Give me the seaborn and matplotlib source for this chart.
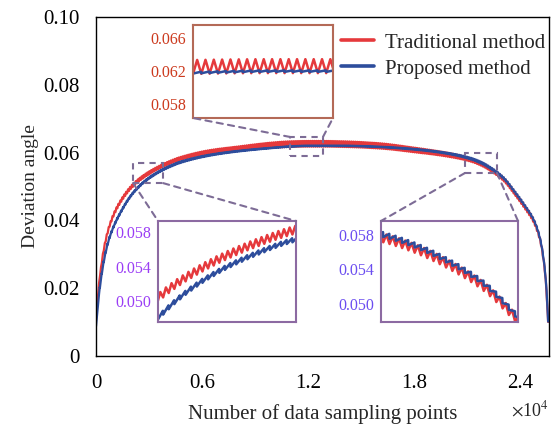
import numpy as np
import pandas as pd
import matplotlib
matplotlib.use("Agg")
import matplotlib.pyplot as plt
import seaborn as sns
from matplotlib.patches import Rectangle, ConnectionPatch
from matplotlib.lines import Line2D

# ---------------- data ----------------
key_x = [0, 200, 500, 800, 1300, 2100, 3000, 4000, 4800, 6500, 8000,
         10000, 11000, 12000, 12850, 14000, 16000, 18000, 20000, 21300, 21900,
         22500, 23100, 23700, 24300, 24800, 25150, 25400, 25520, 25600]
proposed_y = [0.0090, 0.0195, 0.0295, 0.0355, 0.0415, 0.0481, 0.0525, 0.0555,
              0.0572, 0.0593, 0.0604, 0.0614, 0.0618, 0.0620, 0.0620,
              0.0620, 0.0617, 0.0610, 0.0597, 0.0581, 0.0568, 0.0549, 0.0524,
              0.0485, 0.0442, 0.0400, 0.0345, 0.0262, 0.0185, 0.0100]
traditional_y = [0.0110, 0.0225, 0.0330, 0.0390, 0.0448, 0.0504, 0.0540, 0.0567,
                 0.0583, 0.0603, 0.0612, 0.0622, 0.0625, 0.0626, 0.0626,
                 0.0625, 0.0620, 0.0608, 0.0593, 0.0577, 0.0564, 0.0545, 0.0520,
                 0.0481, 0.0438, 0.0396, 0.0341, 0.0258, 0.0181, 0.0100]
# half peak-to-peak height of the sampling ripple along the curves
proposed_ripple = [0.00025, 0.00025, 0.00025, 0.00025, 0.00025, 0.00025, 0.00025,
                   0.00025, 0.00025, 0.0002, 0.00015, 0.0001, 0.0001,
                   0.0001, 0.0001, 0.0001, 0.0001, 0.00015, 0.0002, 0.0003,
                   0.0003, 0.0003, 0.0003, 0.0003, 0.0003, 0.0003, 0.0003,
                   0.0003, 0.0003, 0.0003]
traditional_ripple = [0.0004, 0.0004, 0.0004, 0.0004, 0.0004, 0.00045, 0.00045,
                      0.00045, 0.00045, 0.0005, 0.0006, 0.0008, 0.00085,
                      0.00085, 0.00085, 0.00085, 0.0008, 0.0007, 0.0006, 0.0005,
                      0.0005, 0.0005, 0.0005, 0.0005, 0.0005, 0.0005, 0.0005,
                      0.0005, 0.0005, 0.0005]
ripple_period = 110          # samples per ripple cycle
methods = ["Traditional method", "Proposed method"]
colors = ["#E5393C", "#2D4D9C"]

x_ticks = [0, 6000, 12000, 18000, 24000]
x_ticklabels = ["0", "0.6", "1.2", "1.8", "2.4"]
y_ticks = [0, 0.02, 0.04, 0.06, 0.08, 0.10]
y_ticklabels = ["0", "0.02", "0.04", "0.06", "0.08", "0.10"]

inset1_xlim, inset1_ylim = (11000, 12850), (0.0563, 0.0676)
inset1_ticks = [0.058, 0.062, 0.066]
inset2_xlim, inset2_ylim = (2100, 4800), (0.0476, 0.0593)
inset2_ticks = [0.050, 0.054, 0.058]
inset3_xlim, inset3_ylim = (21300, 23700), (0.0479, 0.0596)
inset3_ticks = [0.050, 0.054, 0.058]
box1 = (11000, 12850, 0.0590, 0.0646)
box2 = (2100, 3800, 0.0510, 0.0569)
box3 = (20900, 22700, 0.0540, 0.0599)


def pchip(xk, yk, xq):
    xk = np.asarray(xk, float); yk = np.asarray(yk, float)
    h = np.diff(xk); d = np.diff(yk) / h
    m = np.zeros_like(yk)
    for k in range(1, len(xk) - 1):
        if d[k - 1] * d[k] > 0:
            w1 = 2 * h[k] + h[k - 1]; w2 = h[k] + 2 * h[k - 1]
            m[k] = (w1 + w2) / (w1 / d[k - 1] + w2 / d[k])
    m[0] = d[0]; m[-1] = d[-1]
    idx = np.clip(np.searchsorted(xk, xq) - 1, 0, len(h) - 1)
    t = (xq - xk[idx]) / h[idx]
    h00 = 2 * t**3 - 3 * t**2 + 1; h10 = t**3 - 2 * t**2 + t
    h01 = -2 * t**3 + 3 * t**2; h11 = t**3 - t**2
    return h00 * yk[idx] + h10 * h[idx] * m[idx] + h01 * yk[idx + 1] + h11 * h[idx] * m[idx + 1]


grid = np.arange(0, 25601, 5.0)
phase = grid / ripple_period
tri = 2 * np.abs(2 * (phase - np.floor(phase + 0.5))) - 1
saw = 2 * (phase - np.floor(phase)) - 1

prop = pchip(key_x, proposed_y, grid) + np.interp(grid, key_x, proposed_ripple) * saw
trad = pchip(key_x, traditional_y, grid) + np.interp(grid, key_x, traditional_ripple) * tri

df = pd.DataFrame({
    "x": np.concatenate([grid, grid]),
    "y": np.concatenate([trad, prop]),
    "method": [methods[0]] * len(grid) + [methods[1]] * len(grid),
})

# ---------------- plotting ----------------
sns.set_style("white")
plt.rcParams["font.family"] = ["Liberation Serif", "DejaVu Serif"]
plt.rcParams["mathtext.fontset"] = "stix"

W, H = 557, 426
fig = plt.figure(figsize=(W / 100, H / 100), dpi=100)
ax = fig.add_axes([96 / W, 1 - 356 / H, (549 - 96) / W, (356 - 17) / H])

pal = dict(zip(methods, colors))
sns.lineplot(data=df, x="x", y="y", hue="method", hue_order=methods, palette=pal,
             estimator=None, sort=False, lw=1.6, legend=False, ax=ax)

ax.set_xlim(0, 25650)
ax.set_ylim(0, 0.10)
ax.set_xticks(x_ticks)
ax.set_xticklabels(x_ticklabels)
ax.set_yticks(y_ticks)
ax.set_yticklabels(y_ticklabels)
ax.tick_params(direction="in", length=5, width=1, labelsize=15,
               top=False, right=False, colors="black")
ax.tick_params(axis="x", pad=13)
ax.tick_params(axis="y", pad=12)
for s in ax.spines.values():
    s.set_color("black"); s.set_linewidth(1.0); s.set_visible(True)
ax.set_xlabel("Number of data sampling points", fontsize=15, labelpad=8)
ax.set_ylabel("Deviation angle", fontsize=14, labelpad=3)
fig.text(511 / W, 1 - 410 / H, r"$\times$10$^4$", fontsize=13, va="center", ha="left")

handles = [Line2D([], [], color=c, lw=2.6) for c in colors]
ax.legend(handles, methods, loc="upper right", frameon=False, fontsize=15,
          bbox_to_anchor=(549 / W, 1 - 29 / H), bbox_transform=fig.transFigure,
          borderaxespad=0, borderpad=0.2, handlelength=1.6, handletextpad=0.5,
          labelspacing=0.3)

dash_col = "#7D6C96"
dash = (0, (3, 2.5))


def make_inset(px, xlim, ylim, ticks, border, tcol):
    l, t, r, b = px
    ins = fig.add_axes([l / W, 1 - b / H, (r - l) / W, (b - t) / H])
    ins.set_facecolor("white")
    sns.lineplot(data=df[(df.x >= xlim[0] - 50) & (df.x <= xlim[1] + 50)], x="x", y="y",
                 hue="method", hue_order=methods, palette=pal, estimator=None,
                 sort=False, lw=1.8, legend=False, ax=ins)
    ins.set_xlim(*xlim); ins.set_ylim(*ylim)
    ins.set_xticks([]); ins.set_yticks(ticks)
    ins.set_yticklabels([f"{v:.3f}" for v in ticks])
    ins.tick_params(axis="y", direction="in", length=4, width=1.6, colors=tcol,
                    labelsize=11.5, pad=5)
    ins.set_xlabel(""); ins.set_ylabel("")
    for s in ins.spines.values():
        s.set_color(border); s.set_linewidth(1.5); s.set_visible(True)
    return ins


ins1 = make_inset((193, 25, 333, 118), inset1_xlim, inset1_ylim, inset1_ticks,
                  "#B46A57", "#CC3A1E")
ins2 = make_inset((158, 221, 296, 322), inset2_xlim, inset2_ylim, inset2_ticks,
                  "#8C6AA2", "#9A3DF5")
ins3 = make_inset((381, 221, 518, 322), inset3_xlim, inset3_ylim, inset3_ticks,
                  "#8C6AA2", "#6B4DF0")


def draw_box(box):
    x0, x1, y0, y1 = box
    ax.add_patch(Rectangle((x0, y0), x1 - x0, y1 - y0, fill=False, ec=dash_col,
                           lw=1.5, ls=dash, zorder=5))


def connect(pa, ins, pb):
    cp = ConnectionPatch(xyA=pa, coordsA=ax.transData, xyB=pb, coordsB=ins.transAxes,
                         color=dash_col, lw=1.5, ls=dash, zorder=6)
    fig.add_artist(cp)


draw_box(box1); draw_box(box2); draw_box(box3)
connect((box1[0], box1[3]), ins1, (0, 0))
connect((box1[1], box1[3]), ins1, (1, 0))
connect((box2[0], box2[2]), ins2, (0, 1))
connect((box2[1], box2[2]), ins2, (1, 1))
connect((box3[0], box3[2]), ins3, (0, 1))
connect((box3[1], box3[2]), ins3, (1, 1))

fig.savefig("out.png", dpi=100)
